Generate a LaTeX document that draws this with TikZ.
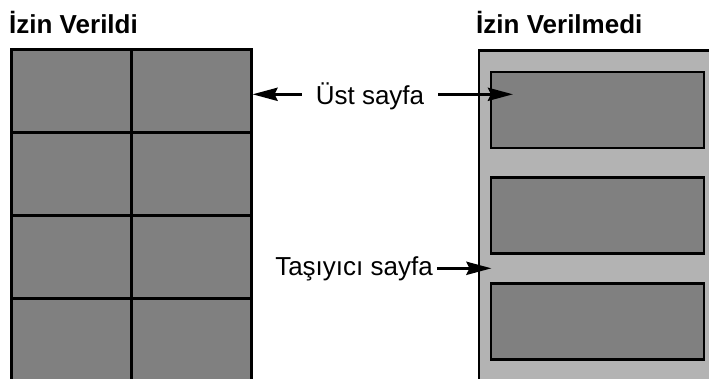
\documentclass[tikz,border=0pt]{standalone}
\usepackage{fontspec}
\setmainfont{Liberation Sans}
\usetikzlibrary{arrows.meta}
\definecolor{cellgray}{HTML}{808080}
\definecolor{panelgray}{HTML}{B3B3B3}
\begin{document}
\begin{tikzpicture}[x=1pt,y=-1pt,
  cell/.style={draw=black,fill=cellgray,line width=3pt,minimum width=120pt,minimum height=83pt,inner sep=0pt,outer sep=0pt},
  subpage/.style={draw=black,fill=cellgray,line width=2.3pt,minimum width=213pt,minimum height=76pt,inner sep=0pt,outer sep=0pt},
  title/.style={font=\fontsize{26}{30}\selectfont\bfseries,inner sep=0pt,anchor=base west},
  lbl/.style={font=\fontsize{26}{30}\selectfont,inner ysep=0pt,anchor=base},
  arr/.style={line width=3.3pt,-{Stealth[length=25pt,width=13pt,inset=3pt]}}]
\useasboundingbox (0,0) rectangle (709,378);
\clip (0,0) rectangle (709,378);
% titles
\node[title] (t1) at (9,33.3) {İzin Verildi};
\node[title] (t2) at (476,33.3) {İzin Verilmedi};
% left grid
\foreach \r/\y in {1/91,2/174,3/257,4/340}{
  \node[cell] (a\r) at (71,\y) {};
  \node[cell] (b\r) at (191,\y) {};
}
% right panel
\node[draw=black,fill=panelgray,line width=2.8pt,minimum width=240pt,minimum height=340pt,inner sep=0pt,anchor=north west] (panel) at (477.5,49.3) {};
\node[subpage] (s1) at (597.5,110) {};
\node[subpage] (s2) at (597.5,215.5) {};
\node[subpage] (s3) at (597.5,321.5) {};
% labels
\node[lbl,inner xsep=14pt] (ust) at (370,104.3) {Üst sayfa};
\node[lbl,inner xsep=4pt] (tas) at (354,275) {Taşıyıcı sayfa};
\coordinate (uL) at (252.5,94.3);
\coordinate (uR) at (513,94.3);
\coordinate (tR) at (491.5,268.3);
\draw[arr] (ust.west |- uL) -- (uL);
\draw[arr] (ust.east |- uR) -- (uR);
\draw[arr] (tas.east |- tR) -- (tR);
\end{tikzpicture}
\end{document}
